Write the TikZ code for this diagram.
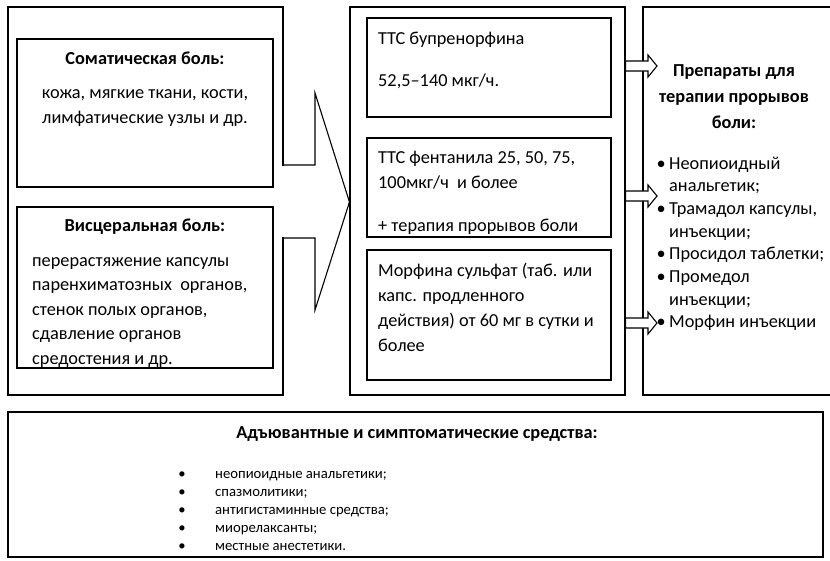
\documentclass[tikz,border=0pt]{standalone}
\usepackage{fontspec}
\setmainfont{Carlito}
\usetikzlibrary{positioning,calc}
\tikzset{
  frame/.style={draw=black,line width=1.1pt,inner sep=0pt},
  body/.style={font=\fontsize{18.3}{25}\selectfont,inner sep=0pt,anchor=base west},
  ttl/.style={font=\fontsize{18.3}{25}\selectfont\bfseries,inner sep=0pt,anchor=base},
  note/.style={font=\fontsize{14.7}{18}\selectfont,inner sep=0pt,anchor=base west},
  blockarr/.style={draw=black,fill=white,line width=1.1pt,line join=miter},
}

\begin{document}
\begin{tikzpicture}[x=1pt,y=-1pt]
  \useasboundingbox (0,0) rectangle (830,560);
  % рамки
  \node[frame,minimum width=275,minimum height=388] (lft) at (145.5,201) {};
  \node[frame,minimum width=256,minimum height=148] (som) at (145,113) {};
  \node[frame,minimum width=256,minimum height=161] (vis) at (145,287.5) {};
  \node[frame,minimum width=275,minimum height=388] (mid) at (487.5,201) {};
  \node[frame,minimum width=244,minimum height=99] (bup) at (489,67.5) {};
  \node[frame,minimum width=244,minimum height=99] (fen) at (489,187.5) {};
  \node[frame,minimum width=244,minimum height=130] (mor) at (489,315) {};
  \node[frame,minimum width=197,minimum height=388] (rgt) at (741.5,201) {};
  \node[frame,minimum width=815,minimum height=145] (adj) at (415.5,484.5) {};

  % большая стрелка
  \fill[white] (280,166) rectangle (314,237);
  \draw[blockarr,fill=none] (lft.east |- 0,165) -- (315,165) -- (315,93) -- (mid.west |- 0,202)
    -- (315,310) -- (315,238) -- (lft.east |- 0,238);
  % малые стрелки
  \foreach \y in {66,196,323}
    \draw[blockarr] (mid.east |- 0,\y-5) -- (648,\y-5) -- (648,\y-11) -- (657,\y)
      -- (648,\y+11) -- (648,\y+5) -- (mid.east |- 0,\y+5) -- cycle;

  % левая колонка
  \node[ttl] (somT) at (145,64) {Соматическая боль:};
  \node[body,anchor=base] (somA) at (145,98) {кожа, мягкие ткани, кости,};
  \node[body,anchor=base] (somB) at (145,123) {лимфатические узлы и др.};
  \node[ttl] (visT) at (145,231) {Висцеральная боль:};
  \foreach \t [count=\i from 0] in {перерастяжение капсулы,{паренхиматозных\ \ органов,},
      {стенок полых органов,},сдавление органов,средостения и др.}
    \node[body] (vis\i) at (32,266+24.5*\i) {\t};

  % средняя колонка
  \node[body] (bupA) at (378,44) {ТТС бупренорфина};
  \node[body] (bupB) at (378,86) {52,5–140 мкг/ч.};
  \node[body] (fenA) at (378,163) {ТТС фентанила 25, 50, 75,};
  \node[body] (fenB) at (378,188) {100мкг/ч\ \ и более};
  \node[body] (fenC) at (378,231) {+ терапия прорывов боли};
  \foreach \t [count=\i from 0] in {Морфина сульфат (таб. или,капс. продленного,
      действия) от 60 мг в сутки и,более}
    \node[body] (mor\i) at (378,276+25*\i) {\t};

  % правая колонка
  \foreach \t [count=\i from 0] in {Препараты для,терапии прорывов,боли:}
    \node[ttl] (rgtT\i) at (734,76+26*\i) {\t};
  \foreach \t/\b [count=\i from 0] in {Неопиоидный/1,анальгетик;/0,{Трамадол капсулы,}/1,
      инъекции;/0,Просидол таблетки;/1,Промедол/1,инъекции;/0,Морфин инъекции/1} {
    \node[body] (rgt\i) at (669,169+22.7*\i) {\t};
    \ifnum\b=1 \node[body,anchor=base east] (dot\i) at (rgt\i.base west) {•\,}; \fi
  }

  % нижний блок
  \node[ttl] (adjT) at (417,438) {Адъювантные и симптоматические средства:};
  \foreach \t [count=\i from 0] in {неопиоидные анальгетики;,спазмолитики;,
      антигистаминные средства;,миорелаксанты;,местные анестетики.} {
    \node[note] (adj\i) at (215,478+18*\i) {\t};
    \node[note,anchor=base] (adjB\i) at (182,478+18*\i) {•};
  }
\end{tikzpicture}
\end{document}
